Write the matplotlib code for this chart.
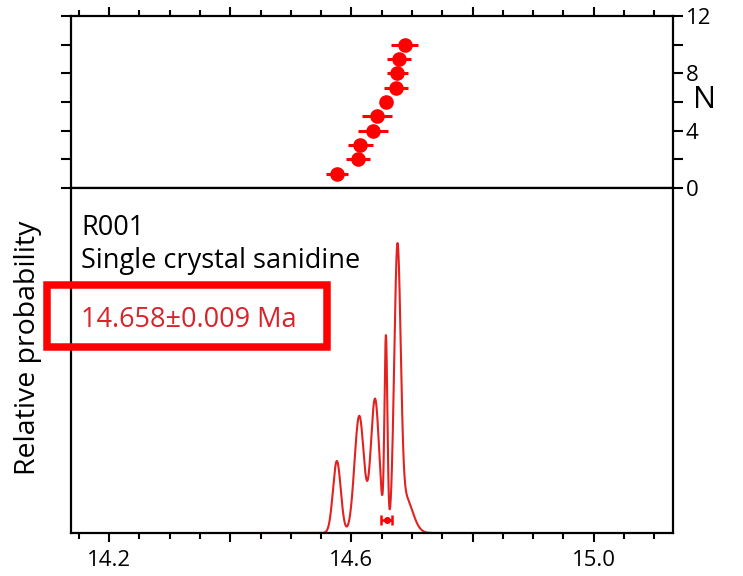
import numpy as np
import matplotlib
matplotlib.use('Agg')
import matplotlib.pyplot as plt
from matplotlib.patches import Rectangle
from matplotlib.ticker import MultipleLocator, FixedLocator

plt.rcParams['font.family'] = ['Open Sans', 'DejaVu Sans']

# single crystal ages (Ma), sorted
ages = [14.576, 14.611, 14.615, 14.636, 14.642, 14.657, 14.673, 14.676, 14.679, 14.688]
# error bars shown in the rank-order panel (Ma)
err_plot = [0.018, 0.020, 0.020, 0.025, 0.025, 0.008, 0.020, 0.017, 0.020, 0.022]
# 1-sigma analytical errors used for the probability curve (Ma)
sigma_an = [0.0064, 0.0076, 0.0076, 0.0061, 0.0061, 0.0024, 0.0045, 0.0045, 0.0045, 0.0125]
n_idx = list(range(1, len(ages) + 1))

mean_age = 14.658
mean_err = 0.009
sample = 'R001'
material = 'Single crystal sanidine'

xticks = [14.2, 14.6, 15.0]

RED = '#ff0000'
CURVE = '#e3211f'

fig = plt.figure(figsize=(7.43, 5.76), dpi=100)
W, H = 743, 576
left, right = 71 / W, 673 / W
ax_top = fig.add_axes([left, 1 - 188 / H, right - left, (188 - 16) / H])
ax_bot = fig.add_axes([left, 1 - 533 / H, right - left, (533 - 188) / H], sharex=ax_top)

# --- rank order plot
ax_top.errorbar(ages, n_idx, xerr=err_plot, fmt='o', color=RED, ms=9.5,
                elinewidth=2.2, capsize=0, zorder=3)
ax_top.set_ylim(0, 12)
ax_top.yaxis.set_major_locator(FixedLocator([0, 4, 8, 12]))
ax_top.yaxis.set_minor_locator(FixedLocator([2, 6, 10]))
ax_top.yaxis.tick_right()
ax_top.tick_params(axis='y', which='both', left=True, right=True, labelleft=False,
                   labelright=True, direction='out', length=7, width=1.5, labelsize=16, pad=2)
ax_top.tick_params(axis='x', which='both', top=True, bottom=True, labelbottom=False,
                   direction='out', width=1.5)
ax_top.tick_params(axis='x', which='major', length=6.5)
ax_top.tick_params(axis='x', which='minor', length=4)

# --- probability density from the single crystal ages
grid = np.linspace(14.45, 14.85, 4000)
dens = np.zeros_like(grid)
for a, s in zip(ages, sigma_an):
    dens += np.exp(-0.5 * ((grid - a) / s) ** 2) / (s * np.sqrt(2 * np.pi))
dens /= len(ages)
ymax = dens.max() * 1.19
ax_bot.plot(grid, dens, color=CURVE, lw=1.5, zorder=2)
ax_bot.errorbar([mean_age], [ymax * 0.038], xerr=[mean_err], fmt='o', color=RED, ms=4,
                elinewidth=1.8, capsize=3.5, capthick=1.8, zorder=3)
ax_bot.set_ylim(0, ymax)
ax_bot.set_xlim(14.137, 15.131)
ax_bot.xaxis.set_major_locator(MultipleLocator(0.2))
ax_bot.xaxis.set_minor_locator(MultipleLocator(0.05))
ax_bot.xaxis.set_major_formatter(plt.FuncFormatter(
    lambda v, p: f'{v:.1f}' if any(abs(v - t) < 1e-6 for t in xticks) else ''))
ax_bot.tick_params(axis='x', which='both', bottom=True, top=False, direction='out',
                   width=1.5, labelsize=16, pad=6)
ax_bot.tick_params(axis='x', which='major', length=6.5)
ax_bot.tick_params(axis='x', which='minor', length=4.5)
ax_bot.tick_params(axis='y', which='both', left=False, right=False, labelleft=False)

for a in (ax_top, ax_bot):
    for sp in a.spines.values():
        sp.set_linewidth(1.6)

fig.text(705 / W, 1 - 100 / H, 'N', fontsize=22, ha='center', va='center')
fig.text(28 / W, 1 - 348 / H, 'Relative probability', fontsize=20.5, rotation=90,
         ha='center', va='center')
fig.text(81 / W, 1 - 235 / H, sample, fontsize=19.5, va='baseline')
fig.text(81 / W, 1 - 268 / H, material, fontsize=19.5, va='baseline')
fig.text(81 / W, 1 - 327 / H, f'{mean_age:.3f}\u00b1{mean_err:.3f} Ma', fontsize=19.5,
         va='baseline', color='#d9232a')

# highlight box around the weighted mean age
fig.patches.append(Rectangle((47 / W, 1 - 346.5 / H), 280 / W, 62 / H, fill=False,
                             edgecolor=RED, lw=5.4, transform=fig.transFigure))

fig.savefig('out.png', dpi=100)
